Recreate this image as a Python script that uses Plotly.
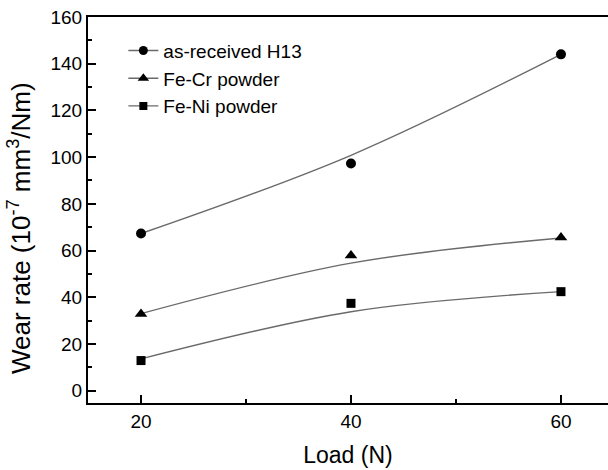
import plotly.graph_objects as go

# ---- data ----
load = [20, 40, 60]
names = ["as-received H13", "Fe-Cr powder", "Fe-Ni powder"]
h13 = [67.3, 97.3, 144.0]
fecr = [32.8, 57.9, 65.6]
feni = [12.9, 37.4, 42.4]

# fitted trend curves
fit_x = [20, 40, 60]
h13_fit = [67.3, 100.8, 144.0]
fecr_fit = [33.0, 54.6, 65.4]
feni_fit = [13.6, 33.8, 42.4]

symbols = ["circle", "triangle-up", "square"]
msizes = [10, 11, 9]

FONT = "Liberation Sans, Arial, sans-serif"
LINE_C = "#6a6a6a"

fig = go.Figure()
for pts, fit, nm, sym, ms in zip([h13, fecr, feni], [h13_fit, fecr_fit, feni_fit], names, symbols, msizes):
    fig.add_trace(go.Scatter(x=fit_x, y=fit, mode="lines",
                             line=dict(color=LINE_C, width=1.4, shape="spline", smoothing=1.0),
                             showlegend=False, hoverinfo="skip"))
    fig.add_trace(go.Scatter(x=load, y=pts, mode="markers", marker=dict(symbol=sym, size=ms, color="black"),
                             showlegend=False))
    fig.add_trace(go.Scatter(x=[None], y=[None], mode="lines+markers", name=nm,
                             line=dict(color=LINE_C, width=1.4),
                             marker=dict(symbol=sym, size=ms - 1, color="black")))

fig.update_layout(
    width=608, height=470,
    margin=dict(l=88, r=0, t=17, b=67),
    paper_bgcolor="white", plot_bgcolor="white",
    font=dict(family=FONT, color="black", size=19),
    showlegend=True,
    legend=dict(x=0.068, y=0.962, xanchor="left", yanchor="top", bgcolor="rgba(0,0,0,0)",
                font=dict(size=19, family=FONT), tracegroupgap=0),
    xaxis=dict(range=[14.95, 64.48], tickmode="linear", tick0=20, dtick=20, ticks="inside", ticklen=8,
               tickwidth=1.5, tickcolor="black",
               minor=dict(tickmode="linear", tick0=30, dtick=20, ticks="inside", ticklen=4, tickwidth=1.5,
                          tickcolor="black"),
               showline=True, linecolor="black", linewidth=2, mirror=True, showgrid=False, zeroline=False,
               tickfont=dict(size=19), title=dict(text="Load (N)", font=dict(size=23), standoff=16)),
    yaxis=dict(range=[-5.27, 160], tickmode="linear", tick0=0, dtick=20, ticks="inside",
               ticklen=8, tickwidth=1.5, tickcolor="black",
               minor=dict(tickmode="linear", tick0=10, dtick=20, ticks="inside", ticklen=4, tickwidth=1.5,
                          tickcolor="black"),
               showline=True, linecolor="black", linewidth=2, mirror=False, showgrid=False, zeroline=False,
               tickfont=dict(size=19)),
    annotations=[dict(text="Wear rate (10<sup>-7</sup> mm<sup>3</sup>/Nm)", textangle=-90,
                      xref="paper", yref="paper", x=-0.1307, y=(470 - 67 - 228) / 386,
                      xanchor="center", yanchor="middle", showarrow=False,
                      font=dict(size=26, family=FONT))],
)

fig.write_html("out.html")
